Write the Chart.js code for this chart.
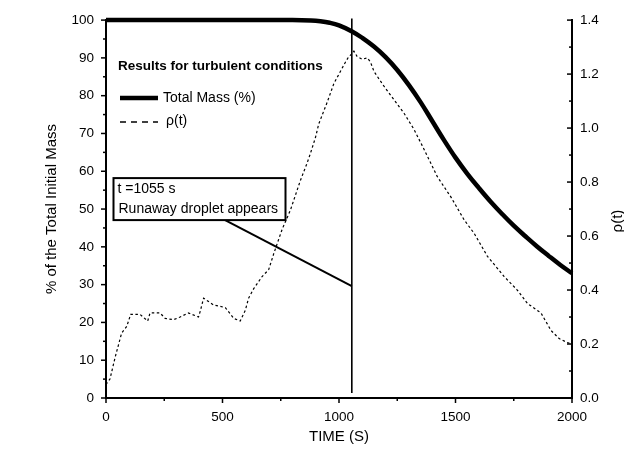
<!DOCTYPE html>
<html>
<head>
<meta charset="utf-8">
<script src="https://cdn.jsdelivr.net/npm/chart.js@4"></script>
<style>
  html, body { margin: 0; padding: 0; background: #fff; }
  #wrap { width: 624px; height: 452px; }
</style>
</head>
<body>
<div id="wrap"><canvas id="chart" width="624" height="452"></canvas></div>
<script>
// total mass, % of initial (left axis)
const massTime = [0, 400, 800, 880, 920, 960, 1000, 1056, 1100, 1150, 1200, 1250, 1300, 1350, 1400,
  1450, 1500, 1550, 1600, 1650, 1700, 1750, 1800, 1850, 1900, 1950, 2000];
const massValue = [100, 100, 100, 99.9, 99.7, 99.3, 98.6, 97.0, 95.3, 93.0, 90.2, 86.8, 82.8, 78.3, 73.3,
  68.3, 63.6, 59.4, 55.6, 52.0, 48.7, 45.6, 42.8, 40.1, 37.6, 35.2, 33.0];

// rho(t) (right axis)
const rhoTime = [0, 17, 39, 67, 89, 106, 146, 179, 189, 232, 254, 290, 318, 354, 397, 404, 419, 461, 512,
  548, 576, 598, 612, 634, 670, 698, 720, 756, 791, 834, 863, 877, 899, 913, 949, 978, 1028, 1042, 1056,
  1064, 1078, 1099, 1121, 1135, 1150, 1193, 1236, 1279, 1322, 1357, 1422, 1480, 1537, 1580, 1637, 1709,
  1765, 1809, 1867, 1910, 1945, 1981, 2000];
const rhoValue = [0.05, 0.07, 0.15, 0.24, 0.265, 0.31, 0.31, 0.285, 0.315, 0.315, 0.295, 0.29, 0.30, 0.315,
  0.30, 0.32, 0.37, 0.345, 0.335, 0.295, 0.285, 0.325, 0.37, 0.405, 0.45, 0.475, 0.535, 0.625, 0.695, 0.805,
  0.87, 0.905, 0.965, 1.015, 1.095, 1.165, 1.245, 1.265, 1.275, 1.285, 1.265, 1.255, 1.26, 1.245, 1.21,
  1.155, 1.105, 1.055, 0.995, 0.935, 0.82, 0.745, 0.66, 0.61, 0.525, 0.45, 0.40, 0.35, 0.315, 0.25, 0.22,
  0.205, 0.2];

// runaway droplet marker at t = 1055 s
const markerTime = [1055, 1055];
const markerLevel = [100.4, 1.3];
const noteTime = [470, 1055];
const noteLevel = [48.4, 29.6];
const noteLines = ['t =1055 s', 'Runaway droplet appears'];

const legendTitle = 'Results for turbulent conditions';
const massLabel = 'Total Mass (%)';
const rhoLabel = 'ρ(t)';

const FONT = '"Liberation Sans", Arial, Helvetica, sans-serif';
Chart.defaults.font.family = FONT;
Chart.defaults.color = '#000';

function pts(xs, ys) {
    return xs.map((x, i) => ({ x: x, y: ys[i] }));
}

function line(ctx, x1, y1, x2, y2) {
    ctx.beginPath();
    ctx.moveTo(x1, y1);
    ctx.lineTo(x2, y2);
    ctx.stroke();
}

// ticks, legend, note box and right title
const decorations = {
    id: 'decorations',
    afterDatasetsDraw(chart) {
        const ctx = chart.ctx;
        const a = chart.chartArea;
        const sx = chart.scales.x, sl = chart.scales.yMass, sr = chart.scales.yRho;
        ctx.save();
        ctx.strokeStyle = '#000';
        ctx.fillStyle = '#000';
        ctx.lineWidth = 1.5;

        // x ticks (down)
        sx.ticks.forEach((t, i) => {
            const p = sx.getPixelForValue(t.value);
            line(ctx, p, a.bottom, p, a.bottom + 5);
            if (i < sx.ticks.length - 1) {
                const m = sx.getPixelForValue((t.value + sx.ticks[i + 1].value) / 2);
                line(ctx, m, a.bottom, m, a.bottom + 3);
            }
        });
        // left ticks (out)
        sl.ticks.forEach((t, i) => {
            const p = sl.getPixelForValue(t.value);
            line(ctx, a.left, p, a.left - 5, p);
            if (i < sl.ticks.length - 1) {
                const m = sl.getPixelForValue((t.value + sl.ticks[i + 1].value) / 2);
                line(ctx, a.left, m, a.left - 3, m);
            }
        });
        // right ticks (in)
        sr.ticks.forEach((t, i) => {
            const p = sr.getPixelForValue(t.value);
            line(ctx, a.right, p, a.right - 5, p);
            if (i < sr.ticks.length - 1) {
                const m = sr.getPixelForValue((t.value + sr.ticks[i + 1].value) / 2);
                line(ctx, a.right, m, a.right - 3, m);
            }
        });

        // legend
        ctx.textBaseline = 'middle';
        ctx.textAlign = 'left';
        ctx.font = 'bold 13.5px ' + FONT;
        ctx.fillText(legendTitle, a.left + 12, a.top + 46);
        ctx.font = '14px ' + FONT;
        ctx.lineWidth = 4.5;
        line(ctx, a.left + 14, a.top + 78, a.left + 52, a.top + 78);
        ctx.fillText(massLabel, a.left + 57, a.top + 78);
        ctx.lineWidth = 1.5;
        ctx.setLineDash([6, 5]);
        line(ctx, a.left + 14, a.top + 102, a.left + 52, a.top + 102);
        ctx.setLineDash([]);
        ctx.fillText(rhoLabel, a.left + 60, a.top + 101);

        // note box
        const bx = a.left + 7.5, by = a.top + 158, bw = 172, bh = 42;
        ctx.fillStyle = '#fff';
        ctx.fillRect(bx, by, bw, bh);
        ctx.lineWidth = 2;
        ctx.strokeRect(bx, by, bw, bh);
        ctx.fillStyle = '#000';
        ctx.fillText(noteLines[0], bx + 4, by + 11);
        ctx.fillText(noteLines[1], bx + 5, by + 31);

        // right axis title, reading upward
        ctx.font = '15px ' + FONT;
        ctx.textAlign = 'center';
        ctx.translate(618, (a.top + a.bottom) / 2 + 12);
        ctx.rotate(-Math.PI / 2);
        ctx.fillText(rhoLabel, 0, 0);
        ctx.restore();
    }
};

new Chart(document.getElementById('chart'), {
    type: 'line',
    data: {
        datasets: [
            {
                label: massLabel,
                data: pts(massTime, massValue),
                yAxisID: 'yMass',
                borderColor: '#000',
                borderWidth: 4.5,
                pointRadius: 0,
                tension: 0.4,
                clip: false
            },
            {
                label: rhoLabel,
                data: pts(rhoTime, rhoValue),
                yAxisID: 'yRho',
                borderColor: '#000',
                borderWidth: 1.2,
                borderDash: [2.5, 2.5],
                pointRadius: 0
            },
            {
                label: 'marker',
                data: pts(markerTime, markerLevel),
                yAxisID: 'yMass',
                borderColor: '#000',
                borderWidth: 1.6,
                pointRadius: 0,
                clip: false
            },
            {
                label: 'note',
                data: pts(noteTime, noteLevel),
                yAxisID: 'yMass',
                borderColor: '#000',
                borderWidth: 2,
                pointRadius: 0
            }
        ]
    },
    options: {
        responsive: false,
        animation: false,
        devicePixelRatio: 1,
        layout: { padding: { top: 19, left: 0, right: 0, bottom: 0 } },
        plugins: { legend: { display: false }, tooltip: { enabled: false } },
        scales: {
            x: {
                type: 'linear',
                min: 0,
                max: 2000,
                ticks: { stepSize: 500, padding: 11, font: { size: 13.5 }, callback: v => String(v) },
                grid: { display: false, drawTicks: false },
                border: { display: true, color: '#000', width: 2 },
                title: { display: true, text: 'TIME (S)', font: { size: 15 }, padding: { top: 0, bottom: 6 } },
                afterFit: s => { s.height = 54; }
            },
            yMass: {
                position: 'left',
                min: 0,
                max: 100,
                ticks: { stepSize: 10, padding: 12, font: { size: 13.5 } },
                grid: { display: false, drawTicks: false },
                border: { display: true, color: '#000', width: 2 },
                title: { display: true, text: '% of the Total Initial Mass', font: { size: 15 }, padding: { top: 43, bottom: 0 } },
                afterFit: s => { s.width = 106; }
            },
            yRho: {
                position: 'right',
                min: 0,
                max: 1.4,
                ticks: { stepSize: 0.2, padding: 8, font: { size: 13.5 }, callback: v => v.toFixed(1) },
                grid: { display: false, drawTicks: false },
                border: { display: true, color: '#000', width: 2 },
                afterFit: s => { s.width = 52; }
            }
        }
    },
    plugins: [decorations]
});
</script>
</body>
</html>
